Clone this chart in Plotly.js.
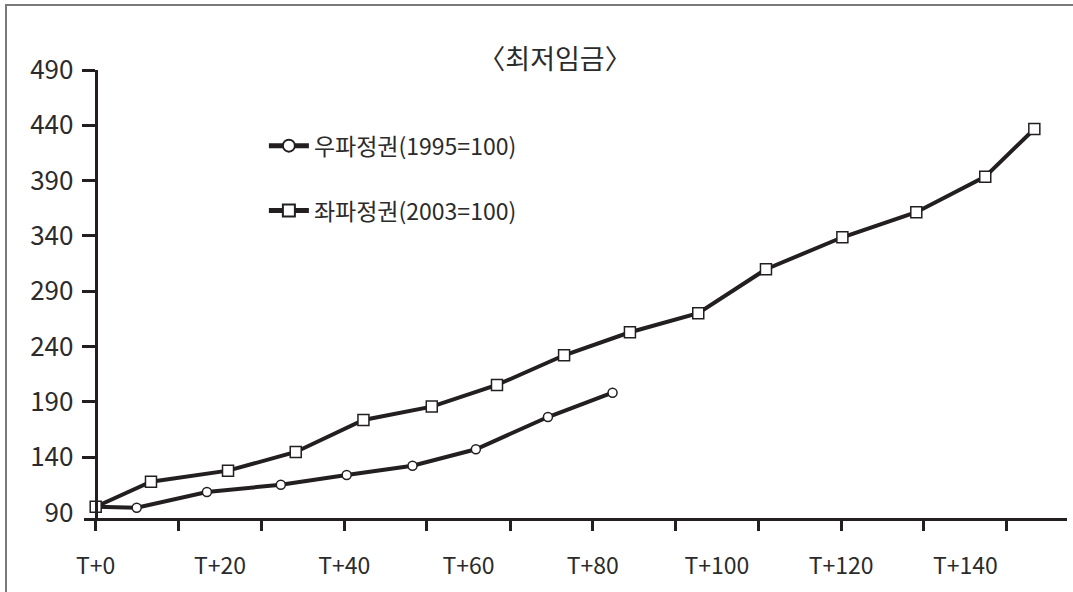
<!DOCTYPE html>
<html>
<head>
<meta charset="utf-8">
<script src="https://cdn.plot.ly/plotly-3.0.1.min.js"></script>
<style>
  html, body { margin: 0; padding: 0; background: #fff; }
  #chart { position: absolute; left: 0; top: 0; width: 1073px; height: 592px; }
  #frame { position: absolute; left: 5px; top: 4px; width: 1068px; height: 588px;
           border-top: 2px solid #7a7a7a; border-left: 2px solid #7a7a7a; pointer-events: none; }
</style>
</head>
<body>
<div id="chart"></div>
<div id="frame"></div>
<script>
// ---- data ----
const titleText = '〈최저임금〉';
const rightName = '우파정권(1995=100)';
const leftName  = '좌파정권(2003=100)';

const rightX = [0, 6.6, 17.9, 29.8, 40.4, 51.0, 61.2, 72.8, 83.2];
const rightY = [95.2, 94.3, 108.5, 115.1, 123.9, 132.3, 147.1, 176.3, 198.3];

const leftX = [0, 8.9, 21.3, 32.2, 43.1, 54.1, 64.6, 75.4, 86.0, 97.0, 107.9, 120.2, 132.1, 143.2, 151.1];
const leftY = [95.2, 117.8, 127.8, 144.7, 173.6, 185.7, 205.3, 232.1, 252.9, 270.1, 309.9, 338.8, 361.4, 393.6, 436.7];

const xTickVals  = [0, 20, 40, 60, 80, 100, 120, 140];
const xTickText  = ['T+0', 'T+20', 'T+40', 'T+60', 'T+80', 'T+100', 'T+120', 'T+140'];
const xMarkVals  = [0, 13.3, 26.7, 40, 53.3, 66.7, 80, 93.3, 106.7, 120, 133.3, 146.7];
const yLabelVals = [90, 140, 190, 240, 290, 340, 390, 440, 490];
const yMarkVals  = [140, 190, 240, 290, 340, 390, 440, 490];

// ---- styling ----
const ink = '#231f20';
const txt = '#2b2b2b';
const fontFam = '"Noto Sans CJK KR", "Noto Sans", sans-serif';
const xRange = [-1.884, 156.36];
const yRange = [85, 490];
const yPos = 0.0119;

const traces = [
  {
    x: rightX, y: rightY, name: rightName, type: 'scatter', mode: 'lines+markers',
    legendgroup: 'a',
    line: { color: ink, width: 4 },
    marker: { symbol: 'circle', size: 9, color: '#ffffff', line: { color: ink, width: 1.5 } },
    hoverinfo: 'skip'
  },
  {
    x: leftX, y: leftY, name: leftName, type: 'scatter', mode: 'lines+markers',
    legendgroup: 'b',
    line: { color: ink, width: 4 },
    marker: { symbol: 'square', size: 11, color: '#ffffff', line: { color: ink, width: 1.5 } },
    hoverinfo: 'skip'
  },
  // invisible helper trace to activate the tick-mark axes
  { x: [xRange[0]], y: [yRange[0]], xaxis: 'x2', yaxis: 'y2', mode: 'markers',
    marker: { opacity: 0 }, showlegend: false, hoverinfo: 'skip', type: 'scatter' }
];

const layout = {
  width: 1073, height: 592,
  margin: { l: 84, r: 6, t: 70, b: 74 },
  paper_bgcolor: '#ffffff', plot_bgcolor: '#ffffff',
  font: { family: fontFam, color: txt },
  showlegend: true,
  title: {
    text: titleText,
    font: { family: fontFam, size: 27, color: txt },
    x: 555 / 1073, xref: 'container', xanchor: 'center',
    y: 1 - 60 / 592, yref: 'container', yanchor: 'middle'
  },
  legend: {
    x: 0.183, y: 0.879, xanchor: 'left', yanchor: 'top',
    bgcolor: 'rgba(0,0,0,0)', borderwidth: 0,
    font: { family: fontFam, size: 23, color: txt },
    traceorder: 'grouped', tracegroupgap: 32,
    itemsizing: 'constant', itemwidth: 40
  },
  // x axis: labels (transparent ticks used only as label offset)
  xaxis: {
    range: xRange, showgrid: false, zeroline: false, showline: false,
    tickmode: 'array', tickvals: xTickVals, ticktext: xTickText,
    ticks: 'outside', ticklen: 27, tickcolor: 'rgba(0,0,0,0)',
    tickfont: { family: fontFam, size: 23, color: txt },
    fixedrange: true
  },
  // x axis: line and tick marks
  xaxis2: {
    overlaying: 'x', anchor: 'y', side: 'bottom',
    range: xRange, showgrid: false, zeroline: false,
    showline: true, linecolor: ink, linewidth: 3,
    tickmode: 'array', tickvals: xMarkVals, showticklabels: false,
    ticks: 'outside', ticklen: 10, tickwidth: 3, tickcolor: ink,
    fixedrange: true
  },
  // y axis: line and tick marks
  yaxis: {
    range: yRange, anchor: 'free', position: yPos, side: 'left',
    showgrid: false, zeroline: false,
    showline: true, linecolor: ink, linewidth: 3,
    tickmode: 'array', tickvals: yMarkVals, showticklabels: false,
    ticks: 'outside', ticklen: 13, tickwidth: 3, tickcolor: ink,
    fixedrange: true
  },
  // y axis: labels
  yaxis2: {
    overlaying: 'y', anchor: 'free', position: yPos, side: 'left',
    range: yRange, showgrid: false, zeroline: false, showline: false,
    tickmode: 'array', tickvals: yLabelVals,
    ticks: 'outside', ticklen: 17, tickcolor: 'rgba(0,0,0,0)',
    tickfont: { family: fontFam, size: 26, color: txt },
    fixedrange: true
  }
};

Plotly.newPlot('chart', traces, layout, { displayModeBar: false, staticPlot: true });
</script>
</body>
</html>
